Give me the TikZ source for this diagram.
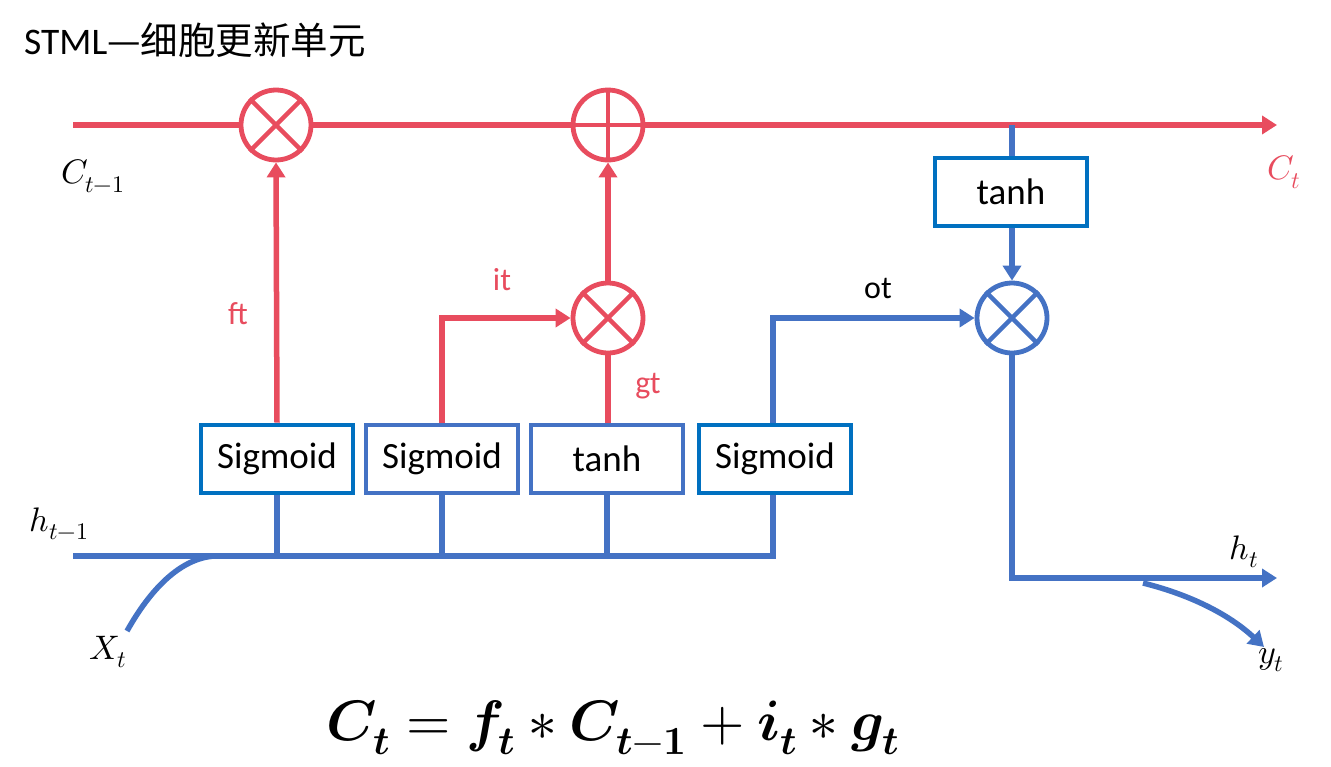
\documentclass[tikz,border=0pt]{standalone}
\usepackage{fontspec}
\usepackage{unicode-math}
\setmainfont{Carlito}
\setmathfont{latinmodern-math.otf}
\newfontfamily\cjk{Noto Sans CJK SC}
\usetikzlibrary{arrows.meta}
\definecolor{cred}{RGB}{232,76,94}
\definecolor{cblue}{RGB}{68,114,196}
\definecolor{cdark}{RGB}{0,112,192}
\tikzset{
  redline/.style={draw=cred,line width=5.5pt},
  blueline/.style={draw=cblue,line width=5.5pt},
  tip/.style={-{Triangle[length=15pt,width=18pt]}},
  opcircle/.style={circle,draw=#1,line width=4.8pt,minimum size=70pt,inner sep=0pt,fill=white},
  fbox/.style={rectangle,draw=#1,line width=4.8pt,minimum width=152pt,minimum height=68pt,inner sep=0pt,
    font=\fontsize{37}{40}\selectfont},
  lbl/.style={font=\fontsize{32}{36}\selectfont,inner sep=0pt},
  mlbl/.style={font=\fontsize{34}{38}\selectfont,inner sep=0pt},
}
\begin{document}
\begin{tikzpicture}[x=1pt,y=-1pt]
\useasboundingbox[fill=white] (0,0) rectangle (1331,766);

% title
\node[anchor=west,inner sep=0pt,font=\fontsize{37.5}{40}\selectfont] (title) at (24,40) {STML{\cjk —细胞更新单元}};

% coordinates
\coordinate (cin) at (73,125);
\coordinate (cout) at (1277,125);
\coordinate (hin) at (73,556);
\coordinate (hout) at (1277,578);
\coordinate (xs) at (127,631);
\coordinate (xe) at (215,556);
\coordinate (ys) at (1143,583);
\coordinate (ye) at (1264,647);

% operator circles
\node[opcircle=cred] (m1) at (276,125) {};
\node[opcircle=cred] (p1) at (608,125) {};
\node[opcircle=cred] (m2) at (608,318) {};
\node[opcircle=cblue] (m3) at (1012,318) {};

% boxes
\node[fbox=cdark] (s1) at (277,459) {Sigmoid};
\node[fbox=cblue] (s2) at (442,459) {Sigmoid};
\node[fbox=cblue] (t1) at (607,459) {tanh};
\node[fbox=cdark] (s4) at (775,459) {Sigmoid};
\node[fbox=cdark] (t2) at (1011,192) {tanh};
\coordinate (tap) at (m3 |- cin);
\coordinate (hend) at (773,556);

% cell state line
\draw[redline] (cin) -- (m1.west);
\draw[redline] (m1.east) -- (p1.west);
\draw[redline,tip] (p1.east) -- (cout);

% crosses
\draw[draw=cred,line width=4.5pt] (m1.north west) -- (m1.south east) (m1.north east) -- (m1.south west);
\draw[draw=cred,line width=4.5pt] (m2.north west) -- (m2.south east) (m2.north east) -- (m2.south west);
\draw[draw=cblue,line width=4.5pt] (m3.north west) -- (m3.south east) (m3.north east) -- (m3.south west);
\draw[draw=cred,line width=4.5pt] (p1.north) -- (p1.south) (p1.west) -- (p1.east);

% gates
\draw[redline,tip] (s1.north) -- (m1.south);
\draw[redline,tip] (s2.north) |- (m2.west);
\draw[redline] (t1.north -| m2) -- (m2.south);
\draw[redline,tip] (m2.north) -- (p1.south);
\draw[blueline,tip] (hend |- s4.north) |- (m3.west);
\draw[blueline] (tap) -- (tap |- t2.north);
\draw[blueline,tip] (m3 |- t2.south) -- (m3.north);
\draw[blueline,tip] (m3.south) |- (hout);
\draw[blueline,tip] (ys) .. controls (1195,596) and (1232,617) .. (ye);

% hidden input bus
\draw[blueline] (hin) -- (hend) -- (hend |- s4.south);
\draw[blueline] (s1.south) -- (s1.south |- hin);
\draw[blueline] (s2.south) -- (s2.south |- hin);
\draw[blueline] (t1.south) -- (t1.south |- hin);
\draw[blueline] (xs) .. controls (150,590) and (180,558) .. (xe);

% labels
\node[lbl,text=cred] (ft) at (238,314) {ft};
\node[lbl,text=cred] (it) at (502,280) {it};
\node[lbl,text=cred] (gt) at (648,386) {gt};
\node[lbl] (ot) at (878,288) {ot};

\node[mlbl] (lc1) at (93,176) {$C_{t-1}$};
\node[mlbl,text=cred] (lct) at (1284,172) {$C_t$};
\node[mlbl] (lh1) at (59,524) {$h_{t-1}$};
\node[mlbl] (lx) at (108,652) {$X_t$};
\node[mlbl] (lht) at (1244,552) {$h_t$};
\node[mlbl] (lyt) at (1271,660) {$y_t$};

% formula
\node[inner sep=0pt,font=\fontsize{57}{62}\selectfont] (formula) at (613,728)
  {$\symbfit{C}_{\symbfit{t}}=\symbfit{f}_{\symbfit{t}}*\symbfit{C}_{\symbfit{t}-\symbf{1}}+\symbfit{i}_{\symbfit{t}}*\symbfit{g}_{\symbfit{t}}$};
\end{tikzpicture}
\end{document}
